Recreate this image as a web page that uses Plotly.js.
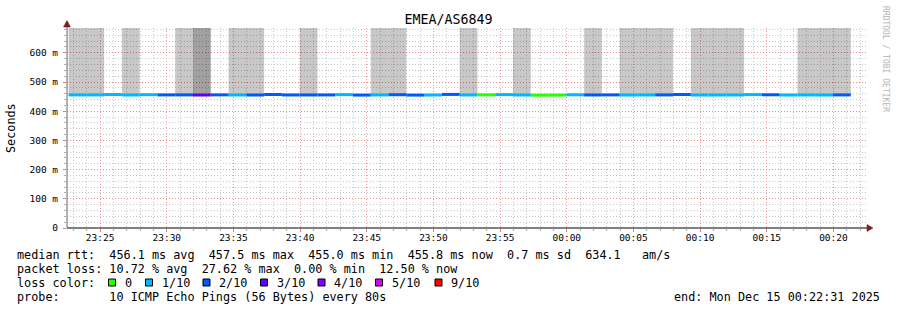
<!DOCTYPE html>
<html>
<head>
<meta charset="utf-8">
<script src="https://cdn.plot.ly/plotly-3.0.1.min.js"></script>
<style>html,body{margin:0;padding:0;background:#fff;}#chart{width:897px;height:310px;}</style>
</head>
<body>
<div id="chart"></div>
<script>
// ---- data ----
const chartTitle = 'EMEA/AS6849';
const rangeStart = '2025-12-14 23:22:31';
const rangeEnd = '2025-12-15 00:22:31';
const firstStepUTC = Date.UTC(2025, 11, 14, 23, 22, 38);
const stepSeconds = 80;
// median rtt per 80 s step (ms); null = no data
const medianRtt = [455.8, 455.8, 457.2, 455.6, 456.6, 455.9, 455.9, 455.5, 456.0, 455.6,
  455.5, 457.3, 455.7, 455.6, 455.8, 456.8, 455.3, 455.7, 456.4, 455.2,
  455.5, 457.5, 455.6, 456.0, 456.9, 455.5, 455.0, 455.2, 456.2, 455.6,
  455.9, 455.5, 455.6, 455.8, 457.2, 455.4, 455.5, 455.6, 456.9, 456.3,
  455.5, 455.6, 455.5, 455.8, null];
// lost pings out of 10 per step
const lossCount = [1, 1, 1, 1, 1, 2, 2, 3, 2, 1,
  2, 2, 2, 2, 2, 1, 2, 1, 2, 2,
  1, 2, 1, 0, 1, 1, 0, 0, 1, 2,
  2, 1, 1, 2, 2, 1, 1, 1, 1, 2,
  1, 1, 1, 2, null];
// smoke top (ms) per step, null = no smoke visible
const smokeTop = [685, 685, null, 685, null, null, 685, 685, null, 685,
  685, null, null, 685, null, null, null, 685, 685, null,
  null, null, 685, null, null, 685, null, null, null, 685,
  null, 685, 685, 685, null, 685, 685, 685, null, null,
  null, 685, 685, 685, null];
// smoke density (1 = light, 2 = dense)
const smokeDensity = [1, 1, 0, 1, 0, 0, 1, 2, 0, 1,
  1, 0, 0, 1, 0, 0, 0, 1, 1, 0,
  0, 0, 1, 0, 0, 1, 0, 0, 0, 1,
  0, 1, 1, 1, 0, 1, 1, 1, 0, 0,
  0, 1, 1, 1, 0];
const yTickVals = [0, 100, 200, 300, 400, 500, 600];
const yTickText = ['0', '100 m', '200 m', '300 m', '400 m', '500 m', '600 m'];
const lossLevels = [0, 1, 2, 3, 4, 5, 9];
const lossLabels = ['0', '1/10', '2/10', '3/10', '4/10', '5/10', '9/10'];
const lossColors = ['#26ff00', '#00b8ff', '#0059ff', '#5e00ff', '#7e00ff', '#dd00ff', '#ff0000'];
const legendLines = [
  'median rtt:  456.1 ms avg  457.5 ms max  455.0 ms min  455.8 ms now  0.7 ms sd  634.1   am/s',
  'packet loss: 10.72 % avg  27.62 % max  0.00 % min  12.50 % now',
  'loss color:',
  'probe:       10 ICMP Echo Pings (56 Bytes) every 80s'
];
const endLabel = 'end: Mon Dec 15 00:22:31 2025';
const watermark = 'RRDTOOL / TOBI OETIKER';

// ---- build ----
const MONO = 'DejaVu Sans Mono, monospace';
const L = 67, R = 867, T = 28, B = 228;
const px = v => (v - L) / (R - L);
const py = v => (B - v) / (B - T);
const nb = s => s.replace(/ /g, '\u00a0');

const stepStart = medianRtt.map((_, i) => firstStepUTC + i * stepSeconds * 1000);
const traces = [];

// smoke
const sx = [], sb = [], sh = [], sc = [];
smokeTop.forEach((top, i) => {
  if (top === null || medianRtt[i] === null) return;
  sx.push(stepStart[i] + stepSeconds * 500);
  sb.push(medianRtt[i]);
  sh.push(top - medianRtt[i]);
  sc.push(smokeDensity[i] === 2 ? 'rgba(0,0,0,0.37)' : 'rgba(0,0,0,0.215)');
});
traces.push({
  type: 'bar', x: sx, base: sb, y: sh, width: stepSeconds * 1000,
  marker: {color: sc, line: {width: 0}}, hoverinfo: 'skip', showlegend: false
});

// median line segments grouped by loss colour
lossLevels.forEach((lvl, k) => {
  const x = [], y = [];
  medianRtt.forEach((v, i) => {
    if (v === null || lossCount[i] !== lvl) return;
    x.push(stepStart[i], stepStart[i] + stepSeconds * 1000, null);
    y.push(v, v, null);
  });
  if (!x.length) return;
  traces.push({
    type: 'scatter', mode: 'lines', x: x, y: y, connectgaps: false,
    line: {color: lossColors[k], width: 3}, hoverinfo: 'skip', showlegend: false
  });
});

const annotations = [];
const shapes = [];
const lineY = [254.5, 268.5, 282.5, 296.5];
legendLines.forEach((t, i) => {
  annotations.push({
    xref: 'paper', yref: 'paper', x: px(16), y: py(lineY[i]), xanchor: 'left', yanchor: 'middle',
    text: nb(t), showarrow: false, borderpad: 0, font: {family: MONO, size: 11.8, color: '#000'}
  });
});
const boxX = [108.5, 145.5, 203, 260.5, 318, 375.5, 435];
lossLabels.forEach((lab, k) => {
  shapes.push({
    type: 'rect', xref: 'paper', yref: 'paper', x0: px(boxX[k]), x1: px(boxX[k] + 7),
    y0: py(279), y1: py(286), fillcolor: lossColors[k], line: {color: '#000', width: 1}
  });
  annotations.push({
    xref: 'paper', yref: 'paper', x: px(boxX[k] + 15), y: py(lineY[2]), xanchor: 'left', yanchor: 'middle',
    text: lab, showarrow: false, borderpad: 0, font: {family: MONO, size: 11.8, color: '#000'}
  });
});
annotations.push({
  xref: 'paper', yref: 'paper', x: px(881), y: py(lineY[3]), xanchor: 'right', yanchor: 'middle',
  text: nb(endLabel), showarrow: false, borderpad: 0, font: {family: MONO, size: 11.8, color: '#000'}
});
annotations.push({
  xref: 'paper', yref: 'paper', x: px(11), y: py(128), xanchor: 'center', yanchor: 'middle',
  text: 'Seconds', textangle: -90, showarrow: false, borderpad: 0, font: {family: MONO, size: 11.8, color: '#000'}
});
annotations.push({
  xref: 'paper', yref: 'paper', x: px(886), y: py(59), xanchor: 'center', yanchor: 'middle',
  text: nb(watermark), textangle: 90, showarrow: false, borderpad: 0, font: {family: MONO, size: 8, color: '#b4b4b4'}
});

// axis extensions + arrows
shapes.push({type: 'line', xref: 'paper', yref: 'paper', x0: px(67), x1: px(869), y0: 0, y1: 0, line: {color: '#000', width: 1}});
shapes.push({type: 'line', xref: 'paper', yref: 'paper', x0: 0, x1: 0, y0: 0, y1: py(23), line: {color: '#666', width: 1}});
shapes.push({type: 'path', xref: 'paper', yref: 'paper',
  path: `M ${px(867)} ${py(224.5)} L ${px(873)} ${py(228)} L ${px(867)} ${py(231.5)} Z`,
  fillcolor: '#7f1d1d', line: {color: '#7f1d1d', width: 0.5}});
shapes.push({type: 'path', xref: 'paper', yref: 'paper',
  path: `M ${px(63.5)} ${py(27)} L ${px(67)} ${py(20.5)} L ${px(70.5)} ${py(27)} Z`,
  fillcolor: '#7f1d1d', line: {color: '#7f1d1d', width: 0.5}});

const layout = {
  width: 897, height: 310,
  margin: {l: L, r: 897 - R, t: T, b: 310 - B, pad: 0},
  paper_bgcolor: '#fff', plot_bgcolor: '#fff',
  showlegend: false,
  barmode: 'overlay',
  title: {text: chartTitle, x: 0.5, xref: 'container', xanchor: 'center',
    y: 1 - 19.5 / 310, yref: 'container', yanchor: 'middle',
    font: {family: MONO, size: 13.3, color: '#000'}},
  xaxis: {
    type: 'date', range: [rangeStart, rangeEnd],
    tick0: '2025-12-14 23:25:00', dtick: 300000, tickformat: '%H:%M',
    showgrid: true, gridcolor: 'rgba(235,120,120,0.75)', griddash: '1px,2px', gridwidth: 1,
    ticks: 'outside', ticklen: 3, tickcolor: '#e08080', ticklabelstandoff: -2,
    minor: {dtick: 60000, showgrid: true, gridcolor: '#c8c8c8', griddash: '1px,2px', gridwidth: 1,
      ticks: 'outside', ticklen: 2, tickcolor: '#b0b0b0'},
    showline: false, zeroline: false, fixedrange: true,
    tickfont: {family: MONO, size: 9.5, color: '#000'}
  },
  yaxis: {
    range: [0, 685], tickvals: yTickVals, ticktext: yTickText,
    showgrid: true, gridcolor: 'rgba(235,120,120,0.75)', griddash: '1px,2px', gridwidth: 1,
    ticks: 'outside', ticklen: 3, tickcolor: '#e08080', ticklabelstandoff: 3,
    minor: {dtick: 20, showgrid: true, gridcolor: '#c8c8c8', griddash: '1px,2px', gridwidth: 1,
      ticks: 'outside', ticklen: 2, tickcolor: '#b0b0b0'},
    showline: false, zeroline: false, fixedrange: true,
    tickfont: {family: MONO, size: 9.5, color: '#000'}
  },
  annotations: annotations,
  shapes: shapes
};

Plotly.newPlot('chart', traces, layout, {displayModeBar: false, staticPlot: true});
</script>
</body>
</html>
